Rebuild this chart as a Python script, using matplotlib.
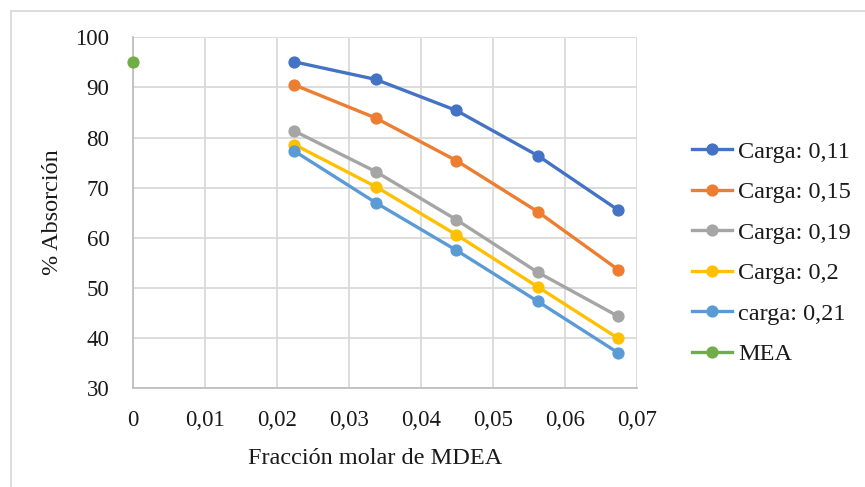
import numpy as np
import matplotlib.pyplot as plt
from matplotlib.patches import Rectangle
from matplotlib.ticker import FuncFormatter

plt.rcParams['font.family'] = ['Liberation Serif', 'DejaVu Serif']

# datos
x_mdea = [0.0224, 0.0337, 0.0449, 0.0562, 0.0674]
carga_011 = [95.1, 91.6, 85.4, 76.4, 65.5]
carga_015 = [90.5, 83.9, 75.4, 65.2, 53.6]
carga_019 = [81.3, 73.2, 63.6, 53.1, 44.3]
carga_020 = [78.6, 70.2, 60.6, 50.2, 39.9]
carga_021 = [77.3, 67.0, 57.5, 47.3, 37.0]
x_mea = [0.0]
mea = [95.1]

labels = ['Carga: 0,11', 'Carga: 0,15', 'Carga: 0,19', 'Carga: 0,2',
          'carga: 0,21', 'MEA']
colors = ['#4472C4', '#ED7D31', '#A5A5A5', '#FFC000', '#5B9BD5', '#70AD47']

fig = plt.figure(figsize=(8.65, 4.87), dpi=100)
ax = fig.add_axes([133 / 865, 1 - 388 / 487, 504 / 865, 350.7 / 487])

series = [carga_011, carga_015, carga_019, carga_020, carga_021]
for y, lab, c in zip(series, labels, colors):
    ax.plot(x_mdea, y, color=c, lw=2.4, marker='o', ms=7.8, label=lab, clip_on=False)
ax.plot(x_mea, mea, color=colors[5], lw=2.4, marker='o', ms=7.8, label=labels[5],
        linestyle='-', clip_on=False, zorder=5)

ax.set_xlim(0, 0.07)
ax.set_ylim(30, 100)
ax.set_xticks(np.arange(0, 0.0701, 0.01))
ax.set_yticks(np.arange(30, 101, 10))
ax.xaxis.set_major_formatter(FuncFormatter(
    lambda v, p: '0' if abs(v) < 1e-9 else ('%.2f' % v).replace('.', ',')))
ax.grid(True, color='#d9d9d9', lw=1.3)
ax.set_axisbelow(True)
for s in ['top', 'right']:
    ax.spines[s].set_visible(False)
for s in ['left', 'bottom']:
    ax.spines[s].set_color('#bfbfbf')
    ax.spines[s].set_linewidth(1.3)
ax.tick_params(length=0, labelsize=16.5, colors='#1a1a1a')
ax.tick_params(axis='y', pad=17)
ax.tick_params(axis='x', pad=16)

fig.text(52 / 865, 1 - 212 / 487, '% Absorción', rotation=90, ha='center',
         va='center', fontsize=17.5, color='#1a1a1a')
fig.text(375 / 865, 1 - 458 / 487, 'Fracción molar de MDEA', ha='center',
         va='center', fontsize=17.5, color='#1a1a1a')

ax.legend(loc='center left', bbox_to_anchor=(692 / 865, 1 - 253 / 487),
          bbox_transform=fig.transFigure, frameon=False, fontsize=17.5,
          handlelength=1.65, handletextpad=0.25, labelspacing=0.76,
          borderpad=0, borderaxespad=0, labelcolor='#1a1a1a')

# marco exterior del gráfico
fig.patches.append(Rectangle((11 / 865, -0.05), 1.0, 1 - 11 / 487 + 0.05,
                             transform=fig.transFigure, fill=False,
                             edgecolor='#d9d9d9', lw=1.3))

fig.savefig('out.png', dpi=100)
